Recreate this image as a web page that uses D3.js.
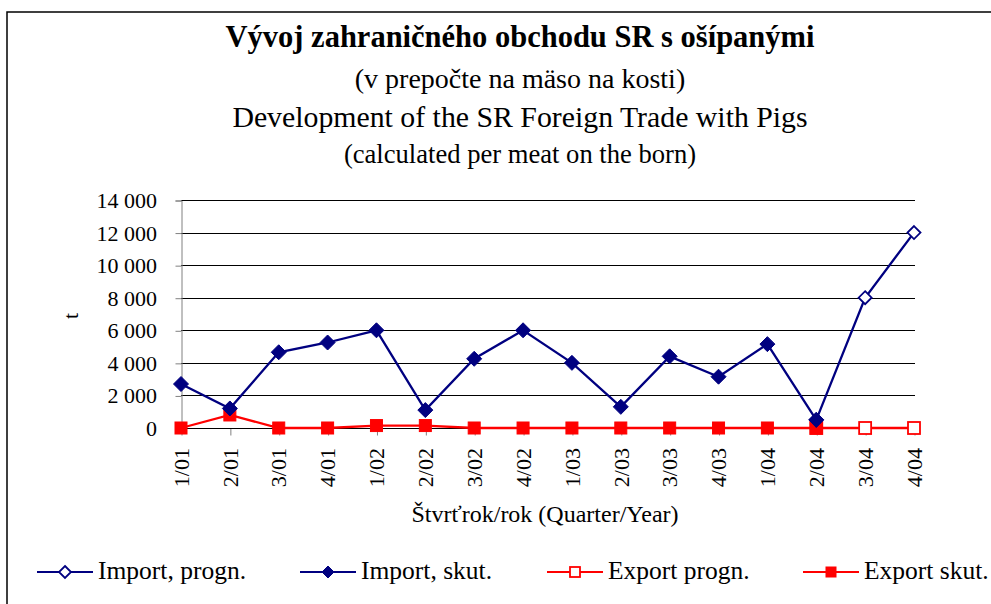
<!DOCTYPE html>
<html>
<head>
<meta charset="utf-8">
<script src="https://cdn.jsdelivr.net/npm/d3@7"></script>
<style>
  html, body { margin: 0; padding: 0; background: #fff; }
  svg { display: block; }
</style>
</head>
<body>
<svg id="chart" width="991" height="604"></svg>
<script>
// ---- data ----
const categories = ["1/01","2/01","3/01","4/01","1/02","2/02","3/02","4/02","1/03","2/03","3/03","4/03","1/04","2/04","3/04","4/04"];
const importSkut  = [2700, 1200, 4650, 5250, 6000, 1100, 4250, 6000, 4000, 1300, 4400, 3150, 5150, 500, null, null];
const importProgn = [null, null, null, null, null, null, null, null, null, null, null, null, null, 500, 8000, 12000];
const exportSkut  = [0, 800, 0, 0, 150, 150, 0, 0, 0, 0, 0, 0, 0, 0, null, null];
const exportProgn = [null, null, null, null, null, null, null, null, null, null, null, null, null, 0, 0, 0];
const yTicks = [0, 2000, 4000, 6000, 8000, 10000, 12000, 14000];
const titleLines = ["Vývoj zahraničného obchodu SR s ošípanými", "(v prepočte na mäso na kosti)", "Development of the SR Foreign Trade with Pigs", "(calculated per meat on the born)"];
const xAxisTitle = "Štvrťrok/rok (Quarter/Year)";
const yAxisTitle = "t";
const legendNames = ["Import, progn.", "Import, skut.", "Export progn.", "Export skut."];

const FONT = "Liberation Serif";
const NAVY = "#000080", RED = "#FF0000";
const svg = d3.select("#chart");

// frame (top + left edges)
svg.append("path").attr("d", "M7,604 V12 H991").attr("fill", "none").attr("stroke", "#000").attr("stroke-width", 1.5);

// titles
const titleCx = 520;
const titleSpecs = [
  {y: 47, size: 30.5, weight: "bold"},
  {y: 88, size: 28, weight: "normal"},
  {y: 126.5, size: 29.8, weight: "normal"},
  {y: 163, size: 26.6, weight: "normal"}
];
titleLines.forEach((t, i) => {
  svg.append("text").attr("x", titleCx).attr("y", titleSpecs[i].y)
    .attr("text-anchor", "middle").attr("font-size", titleSpecs[i].size)
    .attr("font-family", FONT)
    .attr("font-weight", titleSpecs[i].weight).text(t);
});

// scales
const x = d3.scalePoint().domain(categories).range([181, 914]);
const y = d3.scaleLinear().domain([0, 14000]).range([428, 200]);

// gridlines
svg.append("g").selectAll("line").data(yTicks).join("line")
  .attr("x1", 181).attr("x2", 915)
  .attr("y1", d => Math.round(y(d)) + 0.5).attr("y2", d => Math.round(y(d)) + 0.5)
  .attr("stroke", "#000").attr("stroke-width", 1);

// y axis
const yAxis = d3.axisLeft(y).tickValues(yTicks).tickSize(6).tickPadding(18.5)
  .tickFormat(d => d3.format(",")(d).replace(/,/g, " "));
const gy = svg.append("g").attr("transform", "translate(181.5,0.5)").call(yAxis)
  .attr("font-family", FONT).attr("font-size", 22);
gy.select(".domain").attr("stroke", "#808080");
gy.selectAll(".tick line").attr("stroke", "#808080");
gy.selectAll("text").attr("fill", "#000");

// x axis
const xAxis = d3.axisBottom(x).tickSize(7).tickFormat("");
const gx = svg.append("g").attr("transform", "translate(0.5,428.5)").call(xAxis);
gx.select(".domain").remove();
gx.selectAll(".tick line").attr("stroke", "#808080");
svg.append("line").attr("x1", 181).attr("x2", 915).attr("y1", 428.5).attr("y2", 428.5).attr("stroke", "#000");

// x labels rotated
svg.append("g").attr("font-family", FONT).selectAll("text").data(categories).join("text")
  .attr("transform", d => `translate(${x(d)},448) rotate(-90)`)
  .attr("text-anchor", "end").attr("dy", "0.35em")
  .attr("font-size", 22).text(d => d);

// axis titles
svg.append("text").attr("x", 545).attr("y", 522).attr("text-anchor", "middle").attr("font-family", FONT).attr("font-size", 24).text(xAxisTitle);
svg.append("text").attr("transform", "translate(70,316) rotate(-90)").attr("text-anchor", "middle").attr("dy", "0.35em").attr("font-family", FONT).attr("font-size", 22).text(yAxisTitle);

// lines
const line = d3.line().defined(d => d.v !== null).x(d => x(d.c)).y(d => y(d.v));
function series(vals) { return categories.map((c, i) => ({c, v: vals[i]})); }
const seriesDefs = [
  {vals: exportProgn, color: RED, shape: "square", filled: false},
  {vals: exportSkut, color: RED, shape: "square", filled: true},
  {vals: importProgn, color: NAVY, shape: "diamond", filled: false},
  {vals: importSkut, color: NAVY, shape: "diamond", filled: true}
];
seriesDefs.forEach(s => {
  svg.append("path").datum(series(s.vals)).attr("d", line)
    .attr("fill", "none").attr("stroke", s.color).attr("stroke-width", 2.3);
});
function drawMarker(g, cx, cy, s, big) {
  if (s.shape === "diamond") {
    const r = big ? (s.filled ? 7.5 : 6.5) : 6;
    g.append("path").attr("d", `M${cx},${cy - r} L${cx + r},${cy} L${cx},${cy + r} L${cx - r},${cy} Z`)
      .attr("fill", s.filled ? s.color : "#fff").attr("stroke", s.color).attr("stroke-width", s.filled ? 1 : 1.8);
  } else {
    const h = big ? 6 : 5;
    g.append("rect").attr("x", cx - h).attr("y", cy - h).attr("width", 2 * h).attr("height", 2 * h)
      .attr("fill", s.filled ? s.color : "#fff").attr("stroke", s.color).attr("stroke-width", s.filled ? 1 : 1.8);
  }
}
const mg = svg.append("g");
seriesDefs.forEach(s => {
  series(s.vals).forEach(d => {
    if (d.v === null) return;
    drawMarker(mg, x(d.c), y(d.v), s, true);
  });
});

// legend
const legendItems = [
  {x1: 37, name: legendNames[0], def: seriesDefs[2]},
  {x1: 300, name: legendNames[1], def: seriesDefs[3]},
  {x1: 547, name: legendNames[2], def: seriesDefs[0]},
  {x1: 803, name: legendNames[3], def: seriesDefs[1]}
];
const lg = svg.append("g").attr("font-family", FONT);
legendItems.forEach(it => {
  const ly = 572;
  lg.append("line").attr("x1", it.x1).attr("x2", it.x1 + 56).attr("y1", ly).attr("y2", ly)
    .attr("stroke", it.def.color).attr("stroke-width", 2.2);
  drawMarker(lg, it.x1 + 28, ly, it.def, false);
  lg.append("text").attr("x", it.x1 + 61).attr("y", 579).attr("font-size", 25.5).text(it.name);
});
</script>
</body>
</html>
